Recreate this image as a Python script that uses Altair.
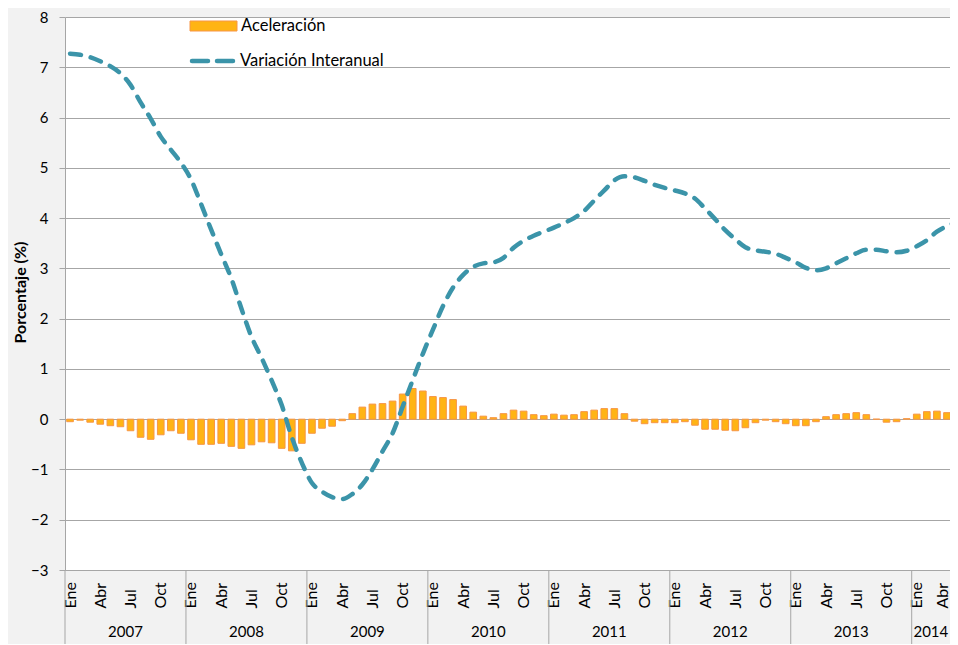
import altair as alt
import pandas as pd

years = [2007, 2008, 2009, 2010, 2011, 2012, 2013, 2014]
month_names = ['Ene', 'Feb', 'Mar', 'Abr', 'May', 'Jun', 'Jul', 'Ago', 'Sep', 'Oct', 'Nov', 'Dic']
months_per_year = [12, 12, 12, 12, 12, 12, 12, 5]

accel = [
    -0.05, -0.02, -0.06, -0.10, -0.13, -0.15, -0.23, -0.36, -0.40, -0.31, -0.23, -0.28,
    -0.41, -0.50, -0.50, -0.48, -0.54, -0.58, -0.51, -0.45, -0.47, -0.58, -0.63, -0.48,
    -0.28, -0.18, -0.14, -0.03, 0.11, 0.24, 0.30, 0.31, 0.36, 0.50, 0.61, 0.56,
    0.45, 0.43, 0.39, 0.26, 0.14, 0.06, 0.03, 0.11, 0.18, 0.16, 0.09, 0.07,
    0.10, 0.08, 0.09, 0.15, 0.18, 0.21, 0.21, 0.11, -0.04, -0.09, -0.07, -0.07,
    -0.07, -0.05, -0.12, -0.20, -0.20, -0.22, -0.23, -0.17, -0.07, -0.02, -0.05, -0.09,
    -0.13, -0.13, -0.05, 0.05, 0.09, 0.11, 0.13, 0.09, 0.00, -0.06, -0.05, 0.01,
    0.10, 0.15, 0.16, 0.13, 0.05,
]

interanual = [
    7.27, 7.25, 7.20, 7.12, 7.02, 6.88, 6.65, 6.30, 5.98, 5.62, 5.36, 5.10,
    4.77, 4.28, 3.77, 3.28, 2.80, 2.20, 1.64, 1.22, 0.77, 0.28, -0.36, -0.87,
    -1.27, -1.44, -1.55, -1.59, -1.49, -1.30, -1.00, -0.64, -0.28, 0.25, 0.78, 1.30,
    1.78, 2.25, 2.62, 2.87, 3.03, 3.10, 3.12, 3.21, 3.41, 3.55, 3.65, 3.73,
    3.81, 3.90, 4.00, 4.14, 4.35, 4.55, 4.75, 4.83, 4.81, 4.74, 4.66, 4.60,
    4.55, 4.49, 4.39, 4.19, 3.98, 3.76, 3.58, 3.42, 3.36, 3.33, 3.29, 3.21,
    3.12, 3.01, 2.96, 3.00, 3.10, 3.20, 3.30, 3.37, 3.37, 3.34, 3.32, 3.35,
    3.44, 3.56, 3.73, 3.84, 3.92,
]

series_names = ['Aceleración', 'Variación Interanual']
y_ticks = list(range(-3, 9))

W, H = 885, 553
X_MAX = 87.8

n = len(accel)
df = pd.DataFrame({'i': list(range(n)), 'accel': accel, 'inter': interanual})
df['t'] = df['i'] + 0.5
df['x0'] = df['i'] + 0.17
df['x1'] = df['i'] + 0.83

starts = [sum(months_per_year[:k]) for k in range(len(years))]
yr_df = pd.DataFrame({
    'year': [str(y) for y in years],
    'start': starts,
    'mid': [(s + min(s + m, X_MAX)) / 2 for s, m in zip(starts, months_per_year)],
})

GRID = '#A6A6A6'
BAR_FILL = '#FFB414'
BAR_STROKE = '#F79646'
LINE_COL = '#3B94A9'
FONT = 'Lato'

xscale = alt.Scale(domain=[0, X_MAX], nice=False, zero=False)
yscale = alt.Scale(domain=[-3, 8], nice=False, zero=False)

tick_vals = [i + 0.5 for i in range(n) if i % 3 == 0]
label_expr = '[' + ','.join("'%s'" % m for m in month_names) + '][floor(datum.value) % 12]'

x_axis = alt.Axis(
    values=tick_vals, labelExpr=label_expr, labelAngle=270, labelAlign='left',
    labelBaseline='middle', grid=False, ticks=False,
    domain=True, domainColor=GRID, labelPadding=38, labelFontSize=16, labelFont=FONT,
    labelOffset={'condition': {'test': 'datum.value > %f' % (X_MAX - 1), 'value': -4}, 'value': 0},
    labelColor='#000000', labelFlush=False, labelOverlap=False, title=None)
y_axis = alt.Axis(
    values=y_ticks, grid=True, gridColor=GRID, gridWidth=1, tickSize=6, tickColor=GRID,
    domain=True, domainColor=GRID, labelPadding=11, labelFontSize=15, labelFont=FONT,
    labelColor='#000000', labelFlush=False, labelOverlap=False, title='Porcentaje (%)', titleFont=FONT,
    titleFontSize=16, titleFontWeight='bold', titleColor='#000000',
    titleX=-45, titleY=275, titleAngle=270, titleBaseline='middle', titleAlign='center')

bars = alt.Chart(df).mark_bar(fill=BAR_FILL, stroke=BAR_STROKE, strokeWidth=1, clip=True).encode(
    x=alt.X('x0:Q', scale=xscale, axis=x_axis),
    x2='x1:Q',
    y=alt.Y('accel:Q', scale=yscale, axis=y_axis),
    y2=alt.datum(0),
)

line = alt.Chart(df).mark_line(
    color=LINE_COL, strokeWidth=4.5, strokeDash=[11, 10], strokeCap='round',
    interpolate='monotone', clip=True,
).encode(x=alt.X('t:Q', scale=xscale, axis=x_axis), y=alt.Y('inter:Q', scale=yscale, axis=y_axis))

seps = alt.Chart(yr_df).mark_rule(color=GRID, strokeWidth=1).encode(
    x=alt.X('start:Q', scale=xscale, axis=x_axis), y=alt.value(H), y2=alt.value(H + 95))

yr_text = alt.Chart(yr_df).mark_text(font=FONT, fontSize=15, color='#000000', baseline='middle').encode(
    x=alt.X('mid:Q', scale=xscale, axis=x_axis), y=alt.value(H + 62), text='year:N')

leg1 = pd.DataFrame({'label': [series_names[0]]})
leg2 = pd.DataFrame({'label': [series_names[1]]})

leg_rect = alt.Chart(leg1).mark_rect(fill=BAR_FILL, stroke=BAR_STROKE, strokeWidth=1).encode(
    x=alt.value(125), x2=alt.value(172), y=alt.value(4), y2=alt.value(14))
leg_t1 = alt.Chart(leg1).mark_text(font=FONT, fontSize=16.5, align='left', baseline='middle', color='#000000').encode(
    x=alt.value(176), y=alt.value(9), text='label:N')
leg_line = alt.Chart(leg2).mark_rule(color=LINE_COL, strokeWidth=4.5, strokeDash=[16, 9], strokeCap='round').encode(
    x=alt.value(127), x2=alt.value(173), y=alt.value(44))
leg_t2 = alt.Chart(leg2).mark_text(font=FONT, fontSize=16.5, align='left', baseline='middle', color='#000000').encode(
    x=alt.value(175), y=alt.value(44), text='label:N')

chart = alt.layer(bars, line, seps, yr_text, leg_rect, leg_t1, leg_line, leg_t2).properties(
    width=W, height=H,
    autosize=alt.AutoSizeParams(type='none'),
    padding={'left': 57, 'top': 9, 'right': 0, 'bottom': 74},
).configure(background='#F2F2F2').configure_view(fill='white', strokeWidth=0).configure_axis(
    labelOverlap=False)

chart.save('out.html', embed_options={'renderer': 'svg', 'actions': False})
